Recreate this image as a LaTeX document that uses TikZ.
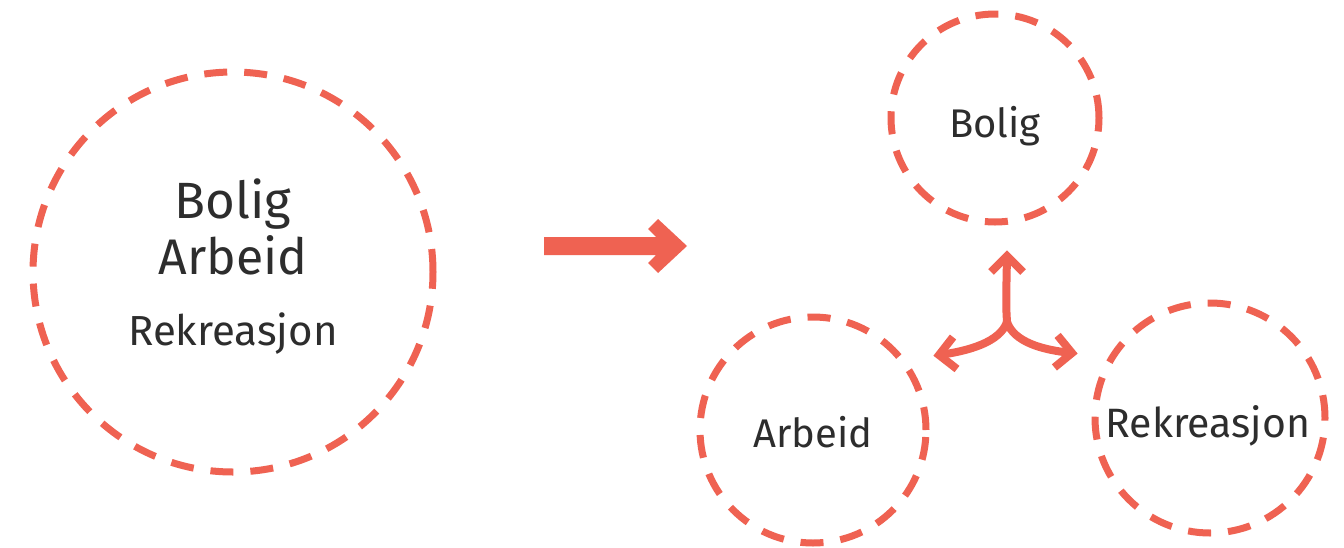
\documentclass[tikz,border=0pt]{standalone}
\usepackage{fontspec}
\setmainfont{Fira Sans}
\definecolor{accent}{RGB}{239,98,82}
\definecolor{txt}{RGB}{45,45,45}
\tikzset{
  ring/.style={circle, draw=accent, line width=7pt, inner sep=0pt, dash pattern=on 23pt off 17pt},
  lbl/.style={text=txt, anchor=base, inner sep=0pt},
  flow/.style={draw=accent, line width=8pt},
  barb/.style={draw=accent, line width=8pt, miter limit=4, line join=miter},
}
\begin{document}
\begin{tikzpicture}[x=1pt,y=-1pt]
\useasboundingbox[fill=white] (0,0) rectangle (1344,547);
% circles
\node[ring, minimum size=400pt] (big) at (233,272) {};
\node[ring, minimum size=208pt] (cb) at (995,118) {};
\node[ring, minimum size=226pt] (ca) at (813,430) {};
\node[ring, minimum size=230pt] (cr) at (1210,418) {};
% texts
\node[lbl, font=\fontsize{51}{51}\selectfont] (t1) at (233,218) {Bolig};
\node[lbl, font=\fontsize{50}{50}\selectfont] (t2) at (233,274) {Arbeid};
\node[lbl, font=\fontsize{42}{42}\selectfont] (t3) at (233,345) {Rekreasjon};
\node[lbl, font=\fontsize{40}{40}\selectfont] (tb) at (995,137) {Bolig};
\node[lbl, font=\fontsize{40}{40}\selectfont] (ta) at (813,447) {Arbeid};
\node[lbl, font=\fontsize{41}{41}\selectfont] (tr) at (1208,437) {Rekreasjon};
% big arrow
\fill[accent] (544,237) -- (656,237) -- (648,229) -- (658,219) -- (687,246)
  -- (658,273) -- (648,263) -- (656,255) -- (544,255) -- cycle;
% three-way arrow
\coordinate (j) at (1007,322);
\coordinate (up) at (1007,256);
\coordinate (upa) at (991,272);
\coordinate (upb) at (1023,272);
\coordinate (lt) at (939,355);
\coordinate (lta) at (953,337);
\coordinate (ltb) at (957,369);
\coordinate (rt) at (1072,353);
\coordinate (rta) at (1057.6,335.4);
\coordinate (rtb) at (1054.4,367.4);
\draw[flow] (j) .. controls (1006,305) .. (up);
\draw[flow] (j) .. controls (1000,342) and (969,351) .. (lt);
\draw[flow] (j) .. controls (1014,342) and (1042,350) .. (rt);
\draw[barb] (upa) -- (up) -- (upb);
\draw[barb] (lta) -- (lt) -- (ltb);
\draw[barb] (rta) -- (rt) -- (rtb);
\end{tikzpicture}
\end{document}
